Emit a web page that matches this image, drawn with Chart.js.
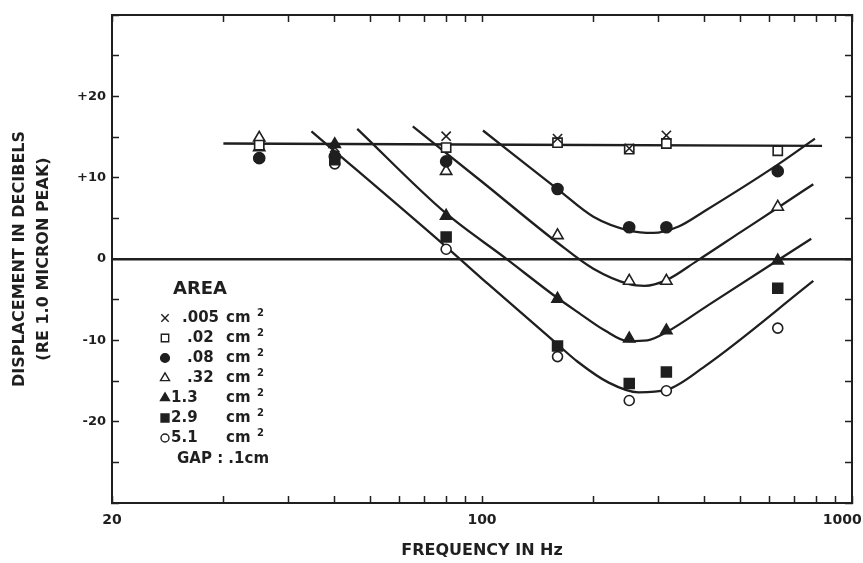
<!DOCTYPE html>
<html>
<head>
<meta charset="utf-8">
<script src="https://cdn.jsdelivr.net/npm/chart.js@4.4.0/dist/chart.umd.min.js"></script>
<style>
  html, body { margin: 0; padding: 0; background: #fff; }
  #chart { display: block; }
</style>
</head>
<body>
<canvas id="chart" width="863" height="563"></canvas>
<script>
// ============================================================
// Displacement vs frequency, one series per contact area
// ============================================================

// Measured frequencies (Hz)
const freqs = [25, 40, 80, 160, 250, 315, 630];

// Measured displacement (dB re 1.0 micron peak), null = not plotted
const area005 = [null, 13.7, 15.1, 14.8, 13.6, 15.2, null];
const area02 = [14.0, null, 13.7, 14.3, 13.5, 14.2, 13.3];
const area08 = [12.4, 12.6, 12.0, 8.6, 3.9, 3.9, 10.8];
const area32 = [14.9, null, 10.8, 2.9, -2.7, -2.7, 6.4];
const area13 = [13.7, 14.1, 5.3, -4.9, -9.8, -8.8, -0.2];
const area29 = [null, 12.2, 2.7, -10.7, -15.3, -13.9, -3.6];
const area51 = [12.4, 11.7, 1.2, -12.0, -17.4, -16.2, -8.5];

const seriesLabels = ['.005', '.02', '.08', '.32', '1.3', '2.9', '5.1'];

// Hand-drawn fit curves (frequency, dB)
const flatFreq = [20, 830];
const flatDb = [14.2, 13.9];
const fit08Freq = [100.6, 160, 200, 250, 290, 340, 400, 630, 794];
const fit08Db = [15.8, 8.6, 5.2, 3.5, 3.2, 4.0, 5.9, 11.6, 14.8];
const fit32Freq = [65, 100, 160, 200, 250, 275, 315, 382, 500, 630, 786];
const fit32Db = [16.3, 9.5, 2.0, -1.2, -3.1, -3.3, -2.6, -0.2, 3.3, 6.3, 9.2];
const fit13Freq = [46, 80, 115, 160, 181, 215, 248, 280, 315, 408, 776];
const fit13Db = [16.0, 5.6, 0.2, -4.8, -6.5, -8.8, -10.1, -10.0, -9.0, -5.7, 2.5];
const fit29Freq = [34.6, 80, 104, 160, 181, 220, 265, 315, 400, 786];
const fit29Db = [15.7, 1.5, -3.1, -10.5, -12.6, -15.2, -16.4, -16.1, -13.2, -2.7];

// Axes
const xTickVals = [10, 20, 30, 40, 50, 60, 70, 80, 90, 100, 200, 300, 400, 500, 600, 700, 800, 900, 1000];
const xTickText = { 10: '20', 100: '100', 1000: '1000    ' };
const yTickText = { 20: '+20', 10: '+10', 0: '0', '-10': '-10', '-20': '-20' };
const xTitle = 'FREQUENCY IN Hz';
const yTitle = ['DISPLACEMENT IN DECIBELS', '(RE 1.0 MICRON PEAK)'];
const legendTitle = 'AREA';
const legendUnit = 'cm';
const gapNote = 'GAP : .1cm';

const ink = '#1f1f1f';
const family = '"DejaVu Sans", "Liberation Sans", sans-serif';

const markerStyles = [
  { pointStyle: 'crossRot', radius: 6.5, fill: false },
  { pointStyle: 'rect', radius: 6.5, fill: false },
  { pointStyle: 'circle', radius: 5.5, fill: true },
  { pointStyle: 'triangle', radius: 6.5, fill: false },
  { pointStyle: 'triangle', radius: 6.5, fill: true },
  { pointStyle: 'rect', radius: 7, fill: true },
  { pointStyle: 'circle', radius: 5, fill: false }
];

function toPoints(xs, ys) {
  return xs.map((x, i) => (ys[i] === null ? null : { x: x, y: ys[i] })).filter(p => p);
}

const seriesValues = [area005, area02, area08, area32, area13, area29, area51];

const markerSets = seriesValues.map((vals, i) => {
  const st = markerStyles[i];
  return {
    label: seriesLabels[i],
    isMarker: true,
    data: toPoints(freqs, vals),
    showLine: false,
    pointStyle: st.pointStyle,
    pointRadius: st.radius,
    pointBorderWidth: 1.6,
    pointBorderColor: ink,
    pointBackgroundColor: st.fill ? ink : '#ffffff',
    order: 1
  };
});

function fitLine(xs, ys) {
  return {
    label: '',
    data: toPoints(xs, ys),
    showLine: true,
    borderColor: ink,
    borderWidth: 2.3,
    pointRadius: 0,
    cubicInterpolationMode: 'monotone',
    order: 2
  };
}

const lineSets = [
  fitLine(flatFreq, flatDb),
  fitLine(fit08Freq, fit08Db),
  fitLine(fit32Freq, fit32Db),
  fitLine(fit13Freq, fit13Db),
  fitLine(fit29Freq, fit29Db)
];

function drawMarker(ctx, ds, x, y, r) {
  ctx.fillStyle = ds.pointBackgroundColor;
  ctx.strokeStyle = ink;
  ctx.lineWidth = 1.4;
  if (Chart.helpers && Chart.helpers.drawPoint) {
    Chart.helpers.drawPoint(ctx, { pointStyle: ds.pointStyle, radius: r, borderWidth: 1.4, rotation: 0 }, x, y);
  } else {
    ctx.beginPath();
    ctx.arc(x, y, r, 0, Math.PI * 2);
    ctx.fill();
    ctx.stroke();
  }
}

// Legend block written inside the plot, like the original figure
const areaLegend = {
  id: 'areaLegend',
  afterDraw(chart) {
    const { ctx, chartArea } = chart;
    const left = chartArea.left;
    const top = chartArea.top;
    ctx.save();
    ctx.textBaseline = 'middle';
    ctx.textAlign = 'left';
    ctx.fillStyle = ink;
    ctx.font = 'bold 18px ' + family;
    ctx.fillText(legendTitle, left + 61, top + 274);

    const markers = chart.data.datasets.filter(d => d.isMarker);
    markers.forEach((ds, i) => {
      const y = top + 303 + i * 20;
      drawMarker(ctx, ds, left + 53, y, ds.pointRadius * 0.8);
      const lab = ds.label;
      const lx = lab[0] === '.' ? (lab.length > 3 ? 70 : 75) : 59;
      ctx.fillStyle = ink;
      ctx.font = 'bold 15px ' + family;
      ctx.fillText(lab, left + lx, y);
      ctx.fillText(legendUnit, left + 114, y);
      ctx.font = 'bold 10px ' + family;
      ctx.fillText('2', left + 145, y - 5);
    });

    ctx.font = 'bold 15px ' + family;
    ctx.fillText(gapNote, left + 65, top + 444);
    ctx.restore();
  }
};

const tickGrid = { drawOnChartArea: false, drawTicks: true, tickLength: -7, tickColor: ink, tickWidth: 1.5 };
const axisBorder = { display: true, color: ink, width: 2 };

function fixX(height) {
  return s => { s.height = height; s.paddingLeft = 0; s.paddingRight = 0; };
}
function fixY(width) {
  return s => { s.width = width; s.paddingTop = 0; s.paddingBottom = 0; };
}

new Chart(document.getElementById('chart'), {
  type: 'scatter',
  data: { datasets: markerSets.concat(lineSets) },
  options: {
    responsive: false,
    animation: false,
    layout: { padding: 0 },
    plugins: { legend: { display: false }, tooltip: { enabled: false } },
    scales: {
      x: {
        type: 'logarithmic',
        position: 'bottom',
        min: 10,
        max: 1000,
        afterBuildTicks: s => { s.ticks = xTickVals.map(v => ({ value: v })); },
        afterFit: fixX(60),
        grid: tickGrid,
        border: axisBorder,
        ticks: {
          autoSkip: false,
          maxRotation: 0,
          padding: 16,
          color: ink,
          font: { family: family, size: 14, weight: 'bold' },
          callback: v => (xTickText[v] !== undefined ? xTickText[v] : '')
        },
        title: {
          display: true,
          text: xTitle,
          color: ink,
          padding: { top: 0, bottom: 2 },
          font: { family: family, size: 16, weight: 'bold', lineHeight: 1.25 }
        }
      },
      x2: {
        type: 'logarithmic',
        position: 'top',
        min: 10,
        max: 1000,
        afterBuildTicks: s => { s.ticks = xTickVals.map(v => ({ value: v })); },
        afterFit: fixX(15),
        grid: tickGrid,
        border: axisBorder,
        ticks: { display: false }
      },
      y: {
        min: -30,
        max: 30,
        afterFit: fixY(112),
        grid: {
          drawOnChartArea: true,
          drawTicks: true,
          tickLength: -7,
          tickColor: ink,
          tickWidth: 1.5,
          color: c => (c.tick && c.tick.value === 0 ? ink : 'rgba(0,0,0,0)'),
          lineWidth: c => (c.tick && c.tick.value === 0 ? 2.5 : 1)
        },
        border: axisBorder,
        ticks: {
          stepSize: 5,
          autoSkip: false,
          padding: 13,
          color: ink,
          font: { family: family, size: 13, weight: 'bold' },
          callback: v => (yTickText[v] !== undefined ? yTickText[v] : '')
        },
        title: {
          display: true,
          text: yTitle,
          color: ink,
          padding: { top: 8, bottom: 0 },
          font: { family: family, size: 16, weight: 'bold', lineHeight: 1.5 }
        }
      },
      y2: {
        position: 'right',
        min: -30,
        max: 30,
        afterFit: fixY(11),
        grid: tickGrid,
        border: axisBorder,
        ticks: { stepSize: 5, display: false }
      }
    }
  },
  plugins: [areaLegend]
});
</script>
</body>
</html>
